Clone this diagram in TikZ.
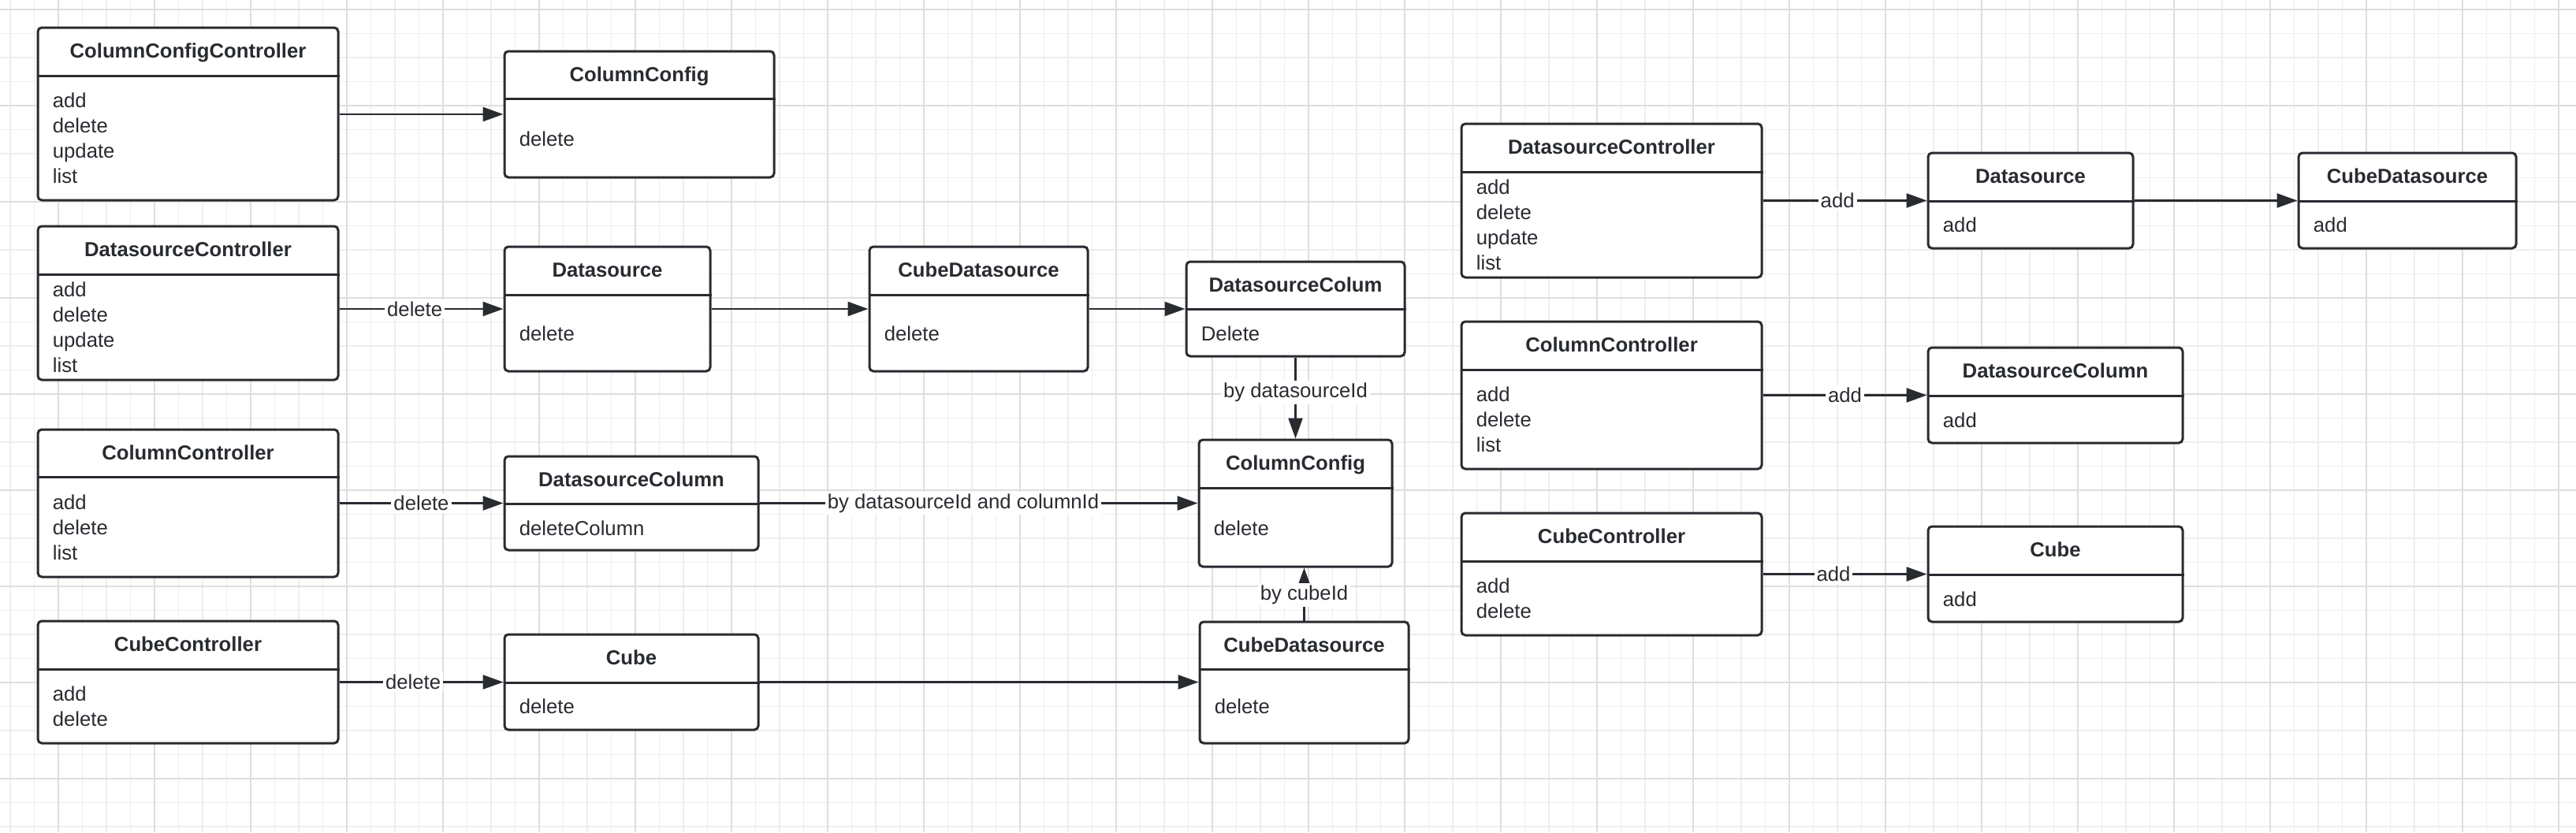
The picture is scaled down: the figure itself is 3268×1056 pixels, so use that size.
\documentclass[tikz,border=0pt]{standalone}
\usepackage{fontspec}
\setmainfont{Liberation Sans}
\usetikzlibrary{arrows.meta}
\usetikzlibrary{fit}
\usetikzlibrary{calc}

\definecolor{ink}{HTML}{282B30}
\definecolor{gridminor}{HTML}{EEEEEE}
\definecolor{gridmajor}{HTML}{DEDEDE}

\tikzset{
	box/.style={draw=ink, line width=1.5pt, fill=white, rounded corners=2.5pt, inner sep=0pt},
	boxtitle/.style={font=\fontsize{12.85}{16}\selectfont\bfseries, text=ink, inner sep=0pt, text height=9.2pt, text depth=0pt},
	boxitem/.style={font=\fontsize{12.85}{16}\selectfont, text=ink, inner sep=0pt, anchor=west, text height=10pt, text depth=1pt},
	call/.style={draw=ink, line width=1.25pt, -{Triangle[length=13pt,width=9pt]}},
	lbl/.style={font=\fontsize{12.85}{16}\selectfont, text=ink, fill=white, inner sep=1.5pt},
}

% name, x1, y1, x2, y2, separator y, title, first item y, items
\newcommand{\classbox}[9]{%
	\node[box, fit={(#2,#3) (#4,#5)}] (#1) {};
	\coordinate (#1-sep) at (0,#6);
	\coordinate (#1-first) at (0,#8);
	\draw[ink, line width=1.5pt] (#1.west |- #1-sep) -- (#1.east |- #1-sep);
	\path (#1.north) -- (#1.north |- #1-sep) node[boxtitle, midway] (#1-title) {#7};
	\foreach \itm [count=\i] in {#9}
		\node[boxitem] (#1-\i) at ($(#1.west |- #1-first)+(20,{32*(\i-1)})$) {\itm};
}

\begin{document}
\begin{tikzpicture}[x=0.5pt, y=-0.5pt]
	\useasboundingbox (0,0) rectangle (3268,1056);
	\fill[white] (0,0) rectangle (3268,1056);
%	grid
	\foreach \x in {13,43.5,...,3268}
		\draw[gridminor, line width=0.65pt] (\x,0) -- (\x,1056);
	\foreach \y in {12,42.5,...,1056}
		\draw[gridminor, line width=0.65pt] (0,\y) -- (3268,\y);
	\foreach \x in {74,196,...,3268}
		\draw[gridmajor, line width=0.75pt] (\x,0) -- (\x,1056);
	\foreach \y in {12,134,...,1056}
		\draw[gridmajor, line width=0.75pt] (0,\y) -- (3268,\y);

%	delete flow
	\classbox{cfgCtl}{48}{35}{429}{254}{96}{ColumnConfigController}{127}{add,delete,update,list}
	\classbox{cfg}{640}{65}{982}{225}{125}{ColumnConfig}{176}{delete}
	\classbox{dsCtl}{48}{287}{429}{482}{348}{DatasourceController}{367}{add,delete,update,list}
	\classbox{ds}{640}{313}{901}{471}{374}{Datasource}{423}{delete}
	\classbox{cubeDs}{1103}{313}{1380}{471}{374}{CubeDatasource}{423}{delete}
	\classbox{dsCol}{1505}{332}{1782}{452}{392}{DatasourceColum}{423}{Delete}
	\classbox{colCtl}{48}{545}{429}{732}{605}{ColumnController}{637}{add,delete,list}
	\classbox{dsColumn}{640}{579}{962}{698}{639}{DatasourceColumn}{670}{deleteColumn}
	\classbox{cfgB}{1521}{558}{1766}{719}{619}{ColumnConfig}{670}{delete}
	\classbox{cubeCtl}{48}{788}{429}{943}{849}{CubeController}{880}{add,delete}
	\classbox{cube}{640}{805}{962}{926}{866}{Cube}{896}{delete}
	\classbox{cubeDsB}{1522}{789}{1787}{943}{849}{CubeDatasource}{896}{delete}

	\draw[call] (cfgCtl.east |- cfg.west) -- (cfg.west);
	\draw[call] (dsCtl.east |- ds.west) -- node[lbl, pos=0.46] {delete} (ds.west);
	\draw[call] (ds.east) -- (cubeDs.west);
	\draw[call] (cubeDs.east) -- (dsCol.west);
	\draw[call] (dsCol.south) -- node[lbl, pos=0.43] {by datasourceId} (cfgB.north);
	\draw[call] (colCtl.east |- dsColumn.west) -- node[lbl, pos=0.5] {delete} (dsColumn.west);
	\draw[call] (dsColumn.east) -- node[lbl, pos=0.465] {by datasourceId and columnId} (cfgB.west);
	\draw[call] (cubeCtl.east |- cube.west) -- node[lbl, pos=0.45] {delete} (cube.west);
	\draw[call] (cube.east) -- (cube.east -| cubeDsB.west);
	\draw[call] (cubeDsB.north) -- node[lbl, pos=0.49] {by cubeId} (cubeDsB.north |- cfgB.south);

%	add flow
	\classbox{dsCtlR}{1854}{157}{2235}{352}{218}{DatasourceController}{237}{add,delete,update,list}
	\classbox{dsR}{2446}{194}{2706}{315}{255}{Datasource}{285}{add}
	\classbox{cubeDsR}{2916}{194}{3192}{315}{255}{CubeDatasource}{285}{add}
	\classbox{colCtlR}{1854}{408}{2235}{595}{469}{ColumnController}{500}{add,delete,list}
	\classbox{dsColumnR}{2446}{441}{2769}{562}{502}{DatasourceColumn}{533}{add}
	\classbox{cubeCtlR}{1854}{651}{2235}{806}{712}{CubeController}{743}{add,delete}
	\classbox{cubeR}{2446}{668}{2769}{789}{729}{Cube}{760}{add}

	\draw[call] (dsCtlR.east |- dsR.west) -- node[lbl, pos=0.455] {add} (dsR.west);
	\draw[call] (dsR.east) -- (cubeDsR.west);
	\draw[call] (colCtlR.east |- dsColumnR.west) -- node[lbl, pos=0.5] {add} (dsColumnR.west);
	\draw[call] (cubeCtlR.east |- cubeR.west) -- node[lbl, pos=0.43] {add} (cubeR.west);
\end{tikzpicture}
\end{document}
